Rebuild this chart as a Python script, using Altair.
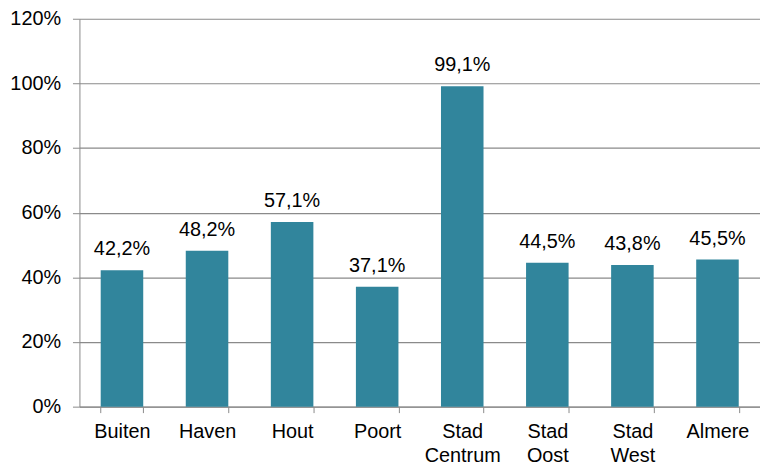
import altair as alt
import pandas as pd

categories = ["Buiten", "Haven", "Hout", "Poort", "Stad Centrum", "Stad Oost", "Stad West", "Almere"]
values = [42.2, 48.2, 57.1, 37.1, 99.1, 44.5, 43.8, 45.5]
y_ticks = [0, 20, 40, 60, 80, 100, 120]

df = pd.DataFrame({
    "cat": categories,
    "val": values,
    "lbl": [f"{v:.1f}".replace(".", ",") + "%" for v in values],
})

FONT = "Liberation Sans"
GRAY = "#8a8a8a"
BAR = "#31859c"

x = alt.X("cat:N", sort=categories, title=None,
          scale=alt.Scale(paddingInner=0.5, paddingOuter=0.25),
          axis=alt.Axis(labelAngle=0, labelExpr="split(datum.label, ' ')",
                        labelFont=FONT, labelFontSize=20, labelColor="#000000",
                        labelLineHeight=24, labelPadding=9, tickSize=6,
                        tickBand="extent", tickColor=GRAY, domainColor=GRAY,
                        grid=False, labelBaseline="top"))
y = alt.Y("val:Q", title=None,
          scale=alt.Scale(domain=[0, 120], nice=False),
          axis=alt.Axis(values=y_ticks, labelExpr="datum.value + '%'",
                        labelFont=FONT, labelFontSize=20, labelColor="#000000",
                        labelPadding=12, tickSize=7, tickColor=GRAY,
                        domainColor=GRAY, grid=True, gridColor=GRAY,
                        gridWidth=1.2))

bars = alt.Chart(df).mark_bar(color=BAR).encode(x=x, y=y)
text = alt.Chart(df).mark_text(font=FONT, fontSize=20, color="#000000",
                               baseline="alphabetic", dy=-15).encode(
    x=alt.X("cat:N", sort=categories), y="val:Q", text="lbl:N")

chart = (bars + text).properties(
    width=686, height=391,
    autosize=alt.AutoSizeParams(type="none"),
    padding={"left": 72, "top": 9, "right": 0, "bottom": 60},
).configure_view(stroke=None)

chart.save("out.html", embed_options={"renderer": "svg", "actions": False})
